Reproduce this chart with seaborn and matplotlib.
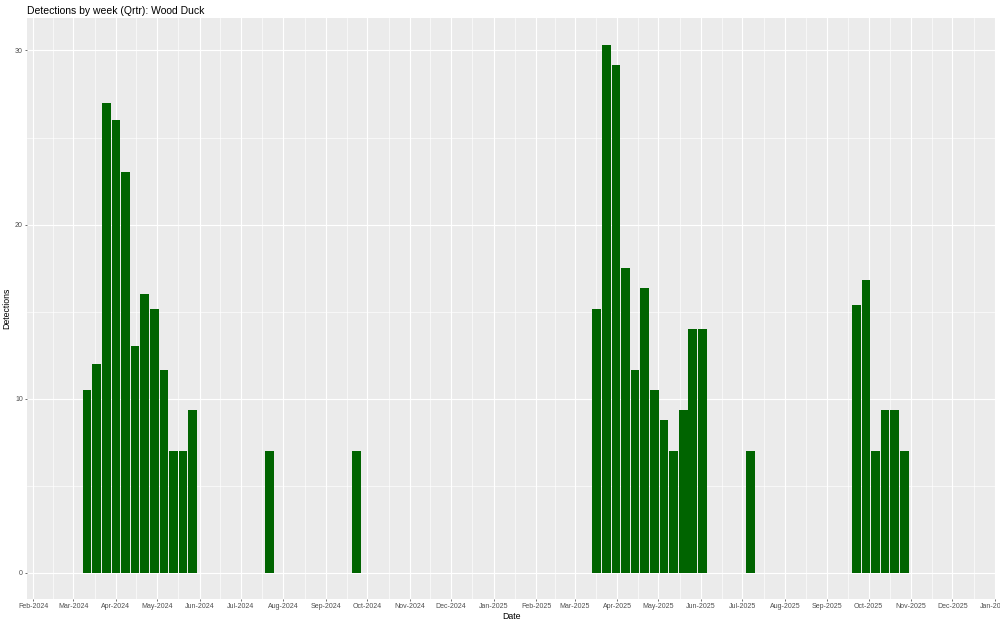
import numpy as np
import pandas as pd
import matplotlib
matplotlib.use("Agg")
import matplotlib.pyplot as plt
import matplotlib.dates as mdates
import matplotlib.ticker as mticker
import seaborn as sns

# ---------------- data ----------------
title = "Detections by week (Qrtr): Wood Duck"
x_label = "Date"
y_label = "Detections"

weeks_2024_spring = ["2024-03-11", "2024-03-18", "2024-03-25", "2024-04-01",
                     "2024-04-08", "2024-04-15", "2024-04-22", "2024-04-29",
                     "2024-05-06", "2024-05-13", "2024-05-20", "2024-05-27"]
values_2024_spring = [10.5, 12.0, 27.0, 26.0, 23.0, 13.0, 16.0, 15.17,
                      11.67, 7.0, 7.0, 9.33]

weeks_2024_other = ["2024-07-22", "2024-09-23"]
values_2024_other = [7.0, 7.0]

weeks_2025_spring = ["2025-03-17", "2025-03-24", "2025-03-31", "2025-04-07",
                     "2025-04-14", "2025-04-21", "2025-04-28", "2025-05-05",
                     "2025-05-12", "2025-05-19", "2025-05-26", "2025-06-02"]
values_2025_spring = [15.17, 30.33, 29.17, 17.5, 11.67, 16.33, 10.5, 8.75,
                      7.0, 9.33, 14.0, 14.0]

weeks_2025_other = ["2025-07-07", "2025-09-22", "2025-09-29", "2025-10-06",
                    "2025-10-13", "2025-10-20", "2025-10-27"]
values_2025_other = [7.0, 15.4, 16.8, 7.0, 9.33, 9.33, 7.0]

month_ticks = pd.date_range("2024-02-01", "2026-01-01", freq="MS")
y_ticks = [0, 10, 20, 30]
y_minor_ticks = [5, 15, 25]

# ---------------- build frame ----------------
weeks = weeks_2024_spring + weeks_2024_other + weeks_2025_spring + weeks_2025_other
values = values_2024_spring + values_2024_other + values_2025_spring + values_2025_other
df = pd.DataFrame({"week": pd.to_datetime(weeks), "detections": values})
df["x"] = mdates.date2num(df["week"])

# ---------------- figure ----------------
fig = plt.figure(figsize=(10, 6.26), dpi=100)
ax = fig.add_axes([0.0267, 0.0427, 0.9693, 0.9281])
ax.set_facecolor("#EBEBEB")

sns.barplot(data=df, x="x", y="detections", native_scale=True, width=0.9,
            color="#006400", saturation=1, errorbar=None, edgecolor="none",
            linewidth=0, ax=ax)

major_x = mdates.date2num(month_ticks)
minor_x = (major_x[:-1] + major_x[1:]) / 2.0

ax.xaxis.set_major_locator(mticker.FixedLocator(major_x))
ax.xaxis.set_minor_locator(mticker.FixedLocator(minor_x))
ax.xaxis.set_major_formatter(mticker.FixedFormatter([d.strftime("%b-%Y") for d in month_ticks]))
ax.yaxis.set_major_locator(mticker.FixedLocator(y_ticks))
ax.yaxis.set_minor_locator(mticker.FixedLocator(y_minor_ticks))

left = mdates.date2num(pd.Timestamp("2024-02-01")) - 4.9
right = mdates.date2num(pd.Timestamp("2026-01-01")) + 0.7
ax.set_xlim(left, right)
ymax = max(values)
ax.set_ylim(-0.05 * ymax, ymax * 1.05)

ax.set_axisbelow(True)
ax.grid(which="major", color="white", linewidth=0.85)
ax.grid(which="minor", color="white", linewidth=0.45)
for s in ax.spines.values():
    s.set_visible(False)

ax.tick_params(which="major", length=1.6, width=0.5, color="#333333",
               labelcolor="#4D4D4D", labelsize=5, pad=1.2)
ax.tick_params(which="minor", length=0)

fam = ["Liberation Sans", "DejaVu Sans"]
for lab in ax.get_xticklabels() + ax.get_yticklabels():
    lab.set_family(fam)

ax.set_xlabel(x_label, fontsize=6.3, family=fam, color="black", labelpad=1.5)
ax.set_ylabel(y_label, fontsize=6.3, family=fam, color="black", labelpad=2.5)

fig.text(0.027, 1 - 13.5 / 626, title, fontsize=7.5, family=fam,
         color="black", va="baseline", ha="left")

fig.savefig("out.png", dpi=100, facecolor="white")
